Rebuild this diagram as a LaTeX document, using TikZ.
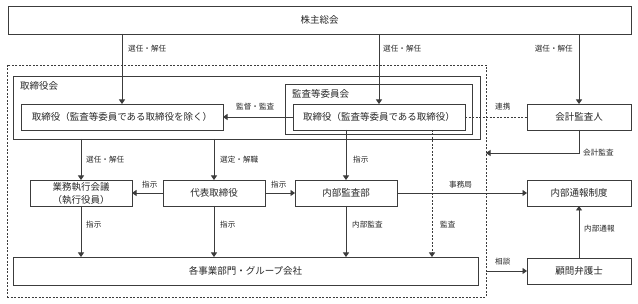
\documentclass[tikz,border=0pt]{standalone}
\usepackage{fontspec}
\setmainfont{Noto Sans CJK JP}
\usetikzlibrary{arrows.meta}
\definecolor{linec}{RGB}{60,60,60}
\definecolor{txtc}{RGB}{40,40,40}
\tikzset{
  box/.style={draw=linec, line width=0.9pt, inner sep=0pt, outer sep=0pt, anchor=north west, align=center, text=txtc, font=\fontsize{9.5}{13}\selectfont},
  lbl/.style={anchor=west, inner sep=0pt, text=txtc, font=\fontsize{7.6}{9}\selectfont},
  title/.style={anchor=west, inner sep=0pt, text=txtc, font=\fontsize{9.5}{11}\selectfont},
  conn/.style={draw=linec, line width=0.9pt},
  arr/.style={conn, -{Triangle[width=6pt,length=4.5pt]}},
  dsh/.style={dash pattern=on 2pt off 1.5pt},
}
\begin{document}
\begin{tikzpicture}[x=1pt,y=-1pt]
\useasboundingbox (0,0) rectangle (638,304);
\fill[white] (0,0) rectangle (638,304);
% containers
\node[box, dsh, minimum width=479pt, minimum height=232pt] (outer) at (7,65) {};
\node[box, minimum width=467pt, minimum height=63pt] (board) at (13,76) {};
\node[box, minimum width=187pt, minimum height=50pt] (auditc) at (285,84) {};
\node[title] (boardlbl) at (20,86) {取締役会};
\node[title] (auditclbl) at (292,94) {監査等委員会};
% boxes
\node[box, minimum width=623pt, minimum height=28pt] (share) at (8,6) {株主総会};
\node[box, minimum width=202pt, minimum height=26pt] (dirs) at (21,104) {取締役（監査等委員である取締役を除く）};
\node[box, minimum width=172pt, minimum height=26pt] (auditdir) at (293,104) {取締役（監査等委員である取締役）};
\node[box, minimum width=104pt, minimum height=26pt] (acc) at (527,104) {会計監査人};
\node[box, minimum width=102pt, minimum height=26pt] (gyomu) at (30,180) {業務執行会議\\（執行役員）};
\node[box, minimum width=102pt, minimum height=26pt] (rep) at (163,180) {代表取締役};
\node[box, minimum width=102pt, minimum height=26pt] (naibu) at (295,180) {内部監査部};
\node[box, minimum width=104pt, minimum height=26pt] (tsuho) at (527,180) {内部通報制度};
\node[box, minimum width=465pt, minimum height=28pt] (units) at (13,257) {各事業部門・グループ会社};
\node[box, minimum width=104pt, minimum height=26pt] (lawyer) at (527,258) {顧問弁護士};
% helper coordinates
\coordinate (kansaX) at (432,150);
\coordinate (kaikeiY) at (579,153);
% connectors
\draw[arr] (share.south -| dirs.north) -- (dirs.north);
\draw[arr] (share.south -| auditdir.north) -- (auditdir.north);
\draw[arr] (share.south -| acc.north) -- (acc.north);
\draw[arr] (auditdir.west) -- (dirs.east);
\draw[conn, dsh] (auditdir.east) -- (acc.west);
\draw[arr] (acc.south) -- (kaikeiY) -- (outer.east |- kaikeiY);
\draw[arr] (board.south -| gyomu.north) -- (gyomu.north);
\draw[arr] (board.south -| rep.north) -- (rep.north);
\draw[arr] (auditdir.south -| naibu.north) -- (naibu.north);
\draw[arr] (rep.west) -- (gyomu.east);
\draw[arr] (rep.east) -- (naibu.west);
\draw[arr] (naibu.east) -- (tsuho.west);
\draw[arr] (gyomu.south) -- (units.north -| gyomu.south);
\draw[arr] (rep.south) -- (units.north -| rep.south);
\draw[arr] (naibu.south) -- (units.north -| naibu.south);
\draw[arr, dsh] (auditdir.south -| kansaX) -- (units.north -| kansaX);
\draw[arr] (outer.east |- lawyer.west) -- (lawyer.west);
\draw[arr] (lawyer.north) -- (tsuho.south);
% labels
\node[lbl] (l1) at (128,49) {選任・解任};
\node[lbl] (l2) at (383,49) {選任・解任};
\node[lbl, anchor=east] (l3) at (573,49) {選任・解任};
\node[lbl] (l4) at (236,107) {監督・監査};
\node[lbl] (l5) at (495,107) {連携};
\node[lbl] (l6) at (583,153) {会計監査};
\node[lbl] (l7) at (86,160) {選任・解任};
\node[lbl] (l8) at (220,160) {選定・解職};
\node[lbl] (l9) at (353,160) {指示};
\node[lbl] (l10) at (142,185) {指示};
\node[lbl] (l11) at (271,185) {指示};
\node[lbl] (l12) at (449,185) {事務局};
\node[lbl] (l13) at (86,225) {指示};
\node[lbl] (l14) at (220,225) {指示};
\node[lbl] (l15) at (352,225) {内部監査};
\node[lbl] (l16) at (440,225) {監査};
\node[lbl] (l17) at (495,262) {相談};
\node[lbl] (l18) at (584,229) {内部通報};
\end{tikzpicture}
\end{document}
